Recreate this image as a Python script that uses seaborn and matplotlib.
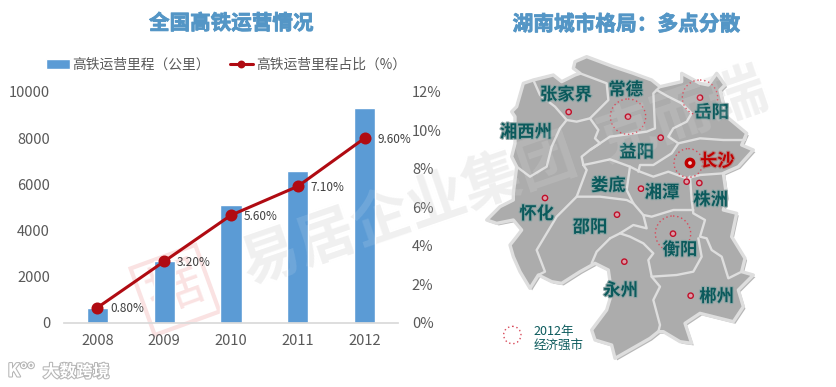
import matplotlib
matplotlib.use("Agg")
import matplotlib.pyplot as plt
import matplotlib.patheffects as pe
from matplotlib.patches import Polygon, Circle
import seaborn as sns

sns.set_theme(style="white")
plt.rcParams['font.family'] = ['Noto Sans CJK SC', 'DejaVu Sans']

# chart data
years = ["2008", "2009", "2010", "2011", "2012"]
mileage = [635, 2684, 5108, 6580, 9308]
share = [0.8, 3.2, 5.6, 7.1, 9.6]
share_labels = ["0.80%", "3.20%", "5.60%", "7.10%", "9.60%"]

# map outline
outline = [(315,185),(350,170),(390,185),(430,200),(490,220),(545,240),(570,260),(635,245),(635,220),
           (690,250),(715,255),(740,220),(765,255),(750,270),(770,350),(830,400),(815,435),(850,450),
           (805,500),(760,520),(770,590),(760,630),(800,640),(785,710),(825,775),(815,815),(850,825),
           (805,870),(820,920),(790,965),(690,940),(645,970),(665,1030),(630,1025),(580,995),(565,995),
           (540,1015),(470,1055),(435,1075),(425,1035),(375,1020),(365,990),(410,930),(425,880),(415,810),
           (375,790),(330,815),(275,850),(245,845),(205,825),(180,865),(150,815),(130,770),(120,735),
           (140,710),(155,690),(130,660),(80,670),(50,660),(90,620),(130,600),(130,580),(140,500),
           (125,470),(135,430),(135,350),(125,335),(140,320),(160,250),(190,240),(250,225),(275,245),
           (315,225),(330,220),(310,205)]
borders = [
    [(190,240),(210,285),(255,320),(290,360),(270,385),(245,440),(230,500),(180,530),(140,500)],
    [(290,360),(320,365),(360,355),(385,390),(375,415),(390,430),(360,450),(335,470),(340,495)],
    [(330,220),(410,250),(415,300),(360,355)],
    [(360,450),(420,410),(530,395),(555,385),(550,280),(570,260)],
    [(560,270),(595,290),(635,310),(665,340),(650,365),(610,385),(595,410),(625,430),(690,415),(760,420),(825,420),(830,400)],
    [(340,495),(365,490),(420,478),(480,500),(510,515),(550,530),(595,515),(650,535),(690,525),(760,520)],
    [(625,430),(605,460),(550,495),(510,495),(505,515)],
    [(660,530),(665,600),(670,640),(705,660),(690,710),(710,715),(725,750),(755,770),(775,835),(815,815)],
    [(340,495),(350,510),(320,590),(260,650),(230,700),(200,750),(225,815),(205,825)],
    [(320,590),(390,590),(470,600),(490,610),(520,645)],
    [(480,500),(470,570),(490,610)],
    [(670,630),(610,630),(545,650),(520,645),(530,685),(490,675),(450,700),(420,715)],
    [(450,700),(480,710),(520,730),(550,760),(535,780),(545,830),(620,825),(670,815),(695,770),(685,715)],
    [(545,830),(570,860),(550,900),(570,975),(565,995)],
    [(420,715),(380,755),(365,790)],
]
city_names = ["张家界","常德","岳阳","湘西州","益阳","娄底","湘潭","株洲","怀化","邵阳","衡阳","永州","郴州"]
city_x = [288,467,725,168,500,415,576,722,200,360,630,452,740]
city_y = [285,270,338,397,457,557,578,600,642,682,750,872,890]
dot_x = [296,474,690,572,650,688,513,225,441,609,463,662]
dot_y = [336,350,293,413,545,549,566,594,644,701,785,887]
strong_x = [474,690,609,655]
strong_y = [350,293,701,489]
strong_r = [53,53,53,43]

blue = "#5b9bd5"
red = "#b00b12"
teal = "#0b5a5c"
title_col = "#5496c6"

fig = plt.figure(figsize=(8.37, 3.87), dpi=100, facecolor="white")

# watermarks under the chart
wm = "易居企业集团  克而瑞"
fig.text(0.603, 0.54, wm, fontsize=42, fontweight="bold", color="#efefef", rotation=19,
         ha="center", va="center", zorder=0)
fig.text(175/837, 1-290/387, "据", fontsize=40, color="#fae2e2", rotation=20, ha="center", va="center",
         zorder=0, bbox=dict(fc="none", ec="#fae2e2", lw=3, pad=5))

# left chart
ax = fig.add_axes([64/837, 1-323/387, 334/837, 231/387], zorder=1)
ax.patch.set_alpha(0)
sns.barplot(x=years, y=mileage, color=blue, saturation=1, width=0.315, ax=ax, label="高铁运营里程（公里）")
ax.set_ylim(0, 10000)
ax.set_xlim(-0.5, 4.5)
ax.set_yticks(range(0, 10001, 2000))
ax.tick_params(axis="y", labelsize=10.5, labelcolor="#595959", length=0, pad=10)
ax.tick_params(axis="x", labelsize=10.5, labelcolor="#595959", length=0, pad=8)
sns.despine(ax=ax, left=True, right=True, top=True)
ax.spines["bottom"].set_color("#d9d9d9")

ax2 = ax.twinx()
ax2.patch.set_alpha(0)
sns.pointplot(x=years, y=share, color=red, markers="o", markersize=7, linewidth=2.2, ax=ax2,
              label="高铁运营里程占比（%）", errorbar=None)
ax2.set_ylim(0, 12)
ax2.set_yticks(range(0, 13, 2))
ax2.set_yticklabels([str(v) + "%" for v in range(0, 13, 2)])
ax2.tick_params(axis="y", labelsize=10.5, labelcolor="#595959", length=0, pad=10)
ax2.grid(False)
for s in ax2.spines.values():
    s.set_visible(False)
for i, lab in enumerate(share_labels):
    ax2.annotate(lab, (i, share[i]), xytext=(9, -1), textcoords="offset points", fontsize=8.5,
                 color="#404040", va="center", ha="left")

h1, l1 = ax.get_legend_handles_labels()
h2, l2 = ax2.get_legend_handles_labels()
if ax.get_legend():
    ax.get_legend().remove()
if ax2.get_legend():
    ax2.get_legend().remove()
leg = fig.legend(h1 + h2, l1 + l2, ncol=2, loc="center", bbox_to_anchor=(226/837, 1-65/387), frameon=False,
                 fontsize=9.9, labelcolor="#595959", columnspacing=1.45, handlelength=1.7, handletextpad=0.2)
leg.legend_handles[1].set_markersize(4)

title_fx = [pe.withStroke(linewidth=0.6, foreground=title_col)]
fig.text(231/837, 1-23/387, "全国高铁运营情况", fontsize=14.8, fontweight="bold", color=title_col,
         ha="center", va="center", path_effects=title_fx)
fig.text(626/837, 1-24/387, "湖南城市格局：多点分散", fontsize=14.9, fontweight="bold", color=title_col,
         ha="center", va="center", path_effects=title_fx)

# map, drawn in 3x zoom units
mp = fig.add_axes([470/837, 0, 367/837, 1], zorder=3)
mp.set_xlim(0, 1101)
mp.set_ylim(1161, 0)
mp.axis("off")
shape = Polygon(outline, closed=True, fc="#acacac", ec="#dedede", lw=2.4, joinstyle="round", zorder=1,
                path_effects=[pe.SimplePatchShadow(offset=(1.5, -1.5), shadow_rgbFace="#888888", alpha=0.6), pe.Normal()])
mp.add_patch(shape)
for b in borders:
    mp.plot([p[0] for p in b], [p[1] for p in b], color="#dedede", lw=1.7, zorder=2, solid_joinstyle="round")

wm2 = fig.text(0.603, 0.54, wm, fontsize=42, fontweight="bold", color="white", alpha=0.12, rotation=19,
               ha="center", va="center", zorder=4)
wm2.set_clip_path(Polygon(outline, closed=True, transform=mp.transData))

for x, y in zip(dot_x, dot_y):
    mp.add_patch(Circle((x, y), 8, fc="#d9a0aa", ec="#c0102a", lw=1, zorder=3))
mp.add_patch(Circle((660, 489), 11, fc="#f2d0d0", ec="#c00000", lw=2.5, zorder=3))
for x, y, r in zip(strong_x, strong_y, strong_r):
    mp.add_patch(Circle((x, y), r, fc="none", ec="#d84a5a", lw=1, ls=(0, (1, 2)), zorder=3))

halo = [pe.withStroke(linewidth=1.6, foreground="#8fa5a5")]
for name, x, y in zip(city_names, city_x, city_y):
    mp.text(x, y, name, fontsize=12.5, fontweight="bold", color=teal, ha="center", va="center",
            zorder=5, path_effects=halo)
mp.text(742, 484, "长沙", fontsize=12.5, fontweight="bold", color="#c00000", ha="center", va="center",
        zorder=5, path_effects=[pe.withStroke(linewidth=1.6, foreground="#b08080")])

# small legend on the map
mp.add_patch(Circle((127, 1005), 26, fc="none", ec="#d84a5a", lw=1, ls=(0, (1, 2)), zorder=5))
mp.text(190, 993, "2012年", fontsize=9, color=teal, ha="left", va="center", zorder=5)
mp.text(190, 1038, "经济强市", fontsize=9, color=teal, ha="left", va="center", zorder=5)

# site mark bottom left
mark = [pe.withStroke(linewidth=1.5, foreground="#b5b5b5")]
fig.text(76/837, 1-372/387, "大数跨境", fontsize=12, fontweight="bold", color="white", ha="center", va="center", path_effects=mark)
fig.text(21/837, 1-371/387, "K°°", fontsize=13, fontweight="bold", color="white", ha="center", va="center", path_effects=mark)

fig.savefig("out.png", dpi=100)
